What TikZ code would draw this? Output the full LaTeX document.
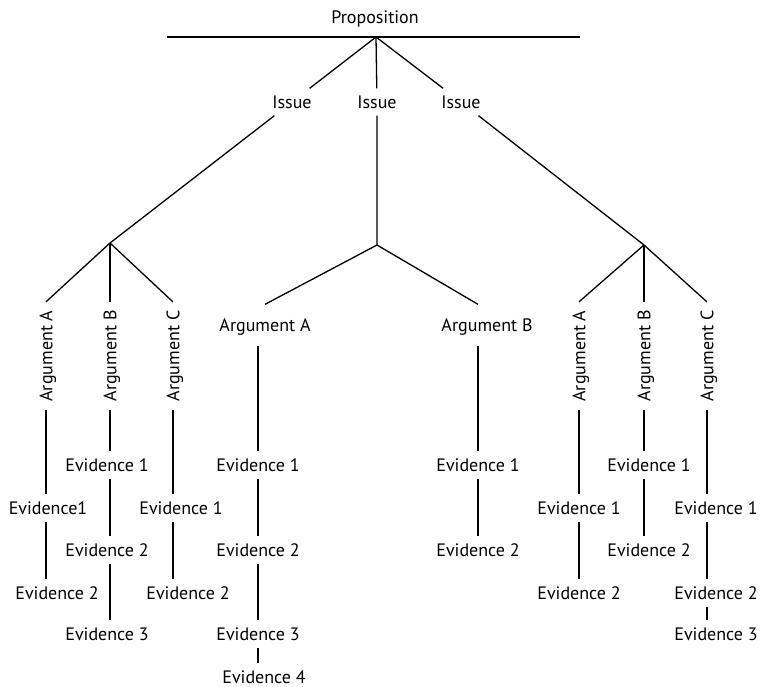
\documentclass[tikz,border=0pt]{standalone}
\usepackage{fontspec}
\setmainfont{PT Sans}
\begin{document}
\begin{tikzpicture}[x=1pt,y=-1pt, line width=1.3pt,
  lbl/.style={font=\fontsize{18}{20}\selectfont, inner sep=0pt, text height=12.5pt, text depth=0pt},
  ev/.style={lbl, minimum height=26pt},
  iss/.style={lbl, minimum height=26pt, minimum width=44pt},
  argv/.style={lbl, rotate=90, inner xsep=8pt},
  argh/.style={lbl, minimum height=40pt},
  bold/.style={line width=2pt}]
\useasboundingbox (0,0) rectangle (762,687);
% top
\node[lbl] (prop) at (375,17) {Proposition};
\coordinate (barL) at (167,37);
\coordinate (barR) at (580,37);
\coordinate (apex) at (376,37);
\draw (barL) -- (barR);
\node[iss] (iL) at (292,102) {Issue};
\node[iss] (iM) at (377,102) {Issue};
\node[iss] (iR) at (461,102) {Issue};
\coordinate (jL) at (110,243);
\coordinate (jM) at (377,245);
\coordinate (jR) at (644,245);
\draw (apex) -- (iL) -- (jL);
\draw (apex) -- (iM) -- (jM);
\draw (apex) -- (iR) -- (jR);
% left group
\node[argv] (lA) at (46,356) {Argument A};
\node[argv] (lB) at (110,356) {Argument B};
\node[argv] (lC) at (173,356) {Argument C};
\draw (jL) -- (lA.east);
\draw (jL) -- (lB.east);
\draw (jL) -- (lC.east);
\node[ev] (lAE1) at (48,508) {Evidence1};
\node[ev] (lAE2) at (57,593) {Evidence 2};
\node[ev] (lBE1) at (107,465) {Evidence 1};
\node[ev] (lBE2) at (107,550) {Evidence 2};
\node[ev] (lBE3) at (107,634) {Evidence 3};
\node[ev] (lCE1) at (181,508) {Evidence 1};
\node[ev] (lCE2) at (188,593) {Evidence 2};
\draw (lA.west) -- (lA.west |- lAE1.north);
\draw (lA.west |- lAE1.south) -- (lA.west |- lAE2.north);
\draw (lB.west) -- (lB.west |- lBE1.north);
\draw (lB.west |- lBE1.south) -- (lB.west |- lBE2.north);
\draw[bold] (lB.west |- lBE2.south) -- (lB.west |- lBE3.north);
\draw[bold] (lC.west) -- (lC.west |- lCE1.north);
\draw (lC.west |- lCE1.south) -- (lC.west |- lCE2.north);
% middle group
\node[argh] (mA) at (265,325) {Argument A};
\node[argh] (mB) at (487,325) {Argument B};
\node[ev] (mAE1) at (258,465) {Evidence 1};
\node[ev] (mAE2) at (258,550) {Evidence 2};
\node[ev] (mAE3) at (258,634) {Evidence 3};
\node[ev] (mAE4) at (264,677) {Evidence 4};
\node[ev] (mBE1) at (478,465) {Evidence 1};
\node[ev] (mBE2) at (478,550) {Evidence 2};
\draw (jM) -- (mA.north);
\draw (jM) -- (mBE1 |- mB.north);
\draw (mAE1.north |- mA.south) -- (mAE1.north);
\draw (mAE1.south) -- (mAE2.north);
\draw (mAE2.south) -- (mAE3.north);
\draw (mAE3.south) -- (mAE3.south |- mAE4.north);
\draw (mBE1.north |- mB.south) -- (mBE1.north);
\draw[bold] (mBE1.south) -- (mBE2.north);
% right group
\node[argv] (rA) at (579,356) {Argument A};
\node[argv] (rB) at (644,356) {Argument B};
\node[argv] (rC) at (707,356) {Argument C};
\draw (jR) -- (rA.east);
\draw (jR) -- (rB.east);
\draw (jR) -- (rC.east);
\node[ev] (rAE1) at (579,508) {Evidence 1};
\node[ev] (rAE2) at (579,593) {Evidence 2};
\node[ev] (rBE1) at (649,465) {Evidence 1};
\node[ev] (rBE2) at (649,550) {Evidence 2};
\node[ev] (rCE1) at (716,508) {Evidence 1};
\node[ev] (rCE2) at (716,593) {Evidence 2};
\node[ev] (rCE3) at (716,634) {Evidence 3};
\draw (rA.west) -- (rA.west |- rAE1.north);
\draw (rA.west |- rAE1.south) -- (rA.west |- rAE2.north);
\draw (rB.west) -- (rB.west |- rBE1.north);
\draw (rB.west |- rBE1.south) -- (rB.west |- rBE2.north);
\draw (rC.west) -- (rC.west |- rCE1.north);
\draw (rC.west |- rCE1.south) -- (rC.west |- rCE2.north);
\draw (rC.west |- rCE2.south) -- (rC.west |- rCE3.north);
\end{tikzpicture}
\end{document}
